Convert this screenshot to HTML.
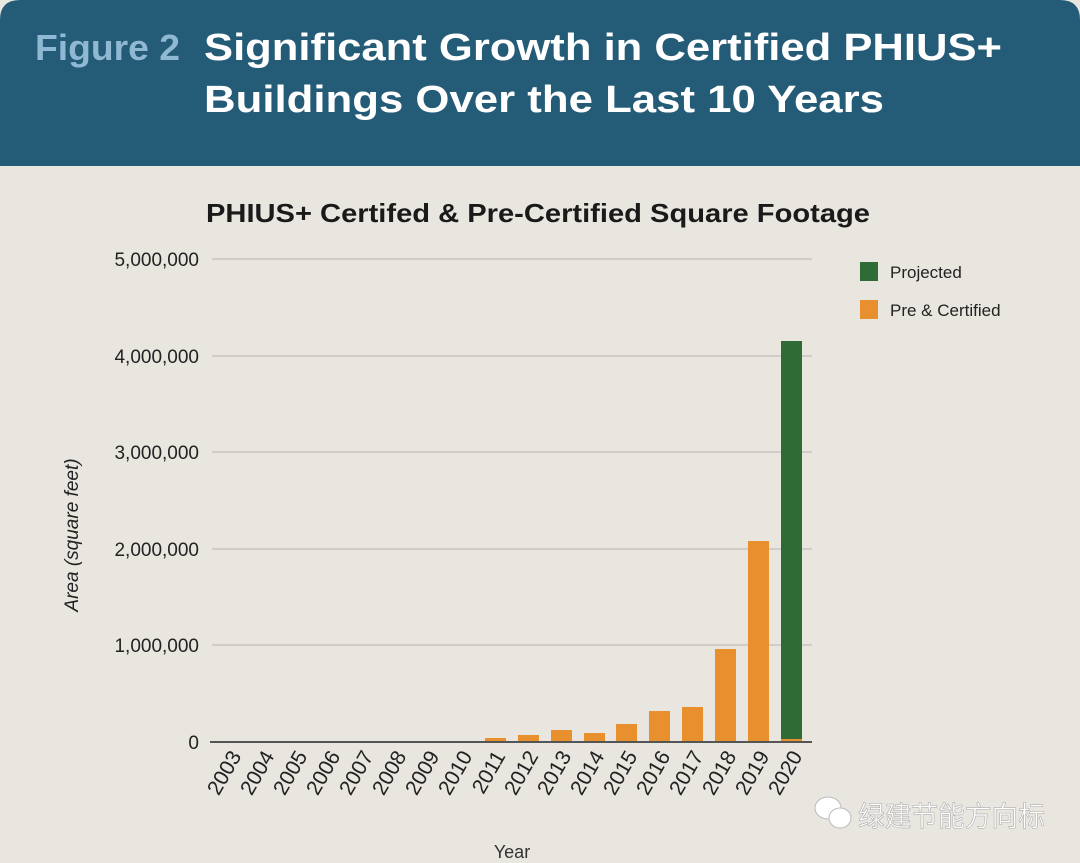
<!DOCTYPE html>
<html><head><meta charset="utf-8"><style>
html,body{margin:0;padding:0;background:#e9e6e0;}
svg{display:block;}
</style></head><body>
<svg width="1080" height="863" viewBox="0 0 1080 863" xmlns="http://www.w3.org/2000/svg" font-family="Liberation Sans, sans-serif">
<rect width="1080" height="863" fill="#e9e6e0"/>
<path d="M0,20 Q0,0 20,0 L1060,0 Q1080,0 1080,20 L1080,166 L0,166 Z" fill="#245b76"/>
<text x="35" y="60" font-size="36" font-weight="bold" fill="#8fb8d3" textLength="145" lengthAdjust="spacingAndGlyphs">Figure 2</text>
<text x="204" y="60" font-size="38" font-weight="bold" fill="#ffffff" textLength="798" lengthAdjust="spacingAndGlyphs">Significant Growth in Certified PHIUS+</text>
<text x="204" y="112" font-size="38" font-weight="bold" fill="#ffffff" textLength="680" lengthAdjust="spacingAndGlyphs">Buildings Over the Last 10 Years</text>
<text x="206" y="222" font-size="26" font-weight="bold" fill="#1a1a1a" textLength="664" lengthAdjust="spacingAndGlyphs">PHIUS+ Certifed &amp; Pre-Certified Square Footage</text>
<g stroke="#c9c6c1" stroke-width="1.5">
<line x1="212" y1="259" x2="812" y2="259"/>
<line x1="212" y1="356" x2="812" y2="356"/>
<line x1="212" y1="452" x2="812" y2="452"/>
<line x1="212" y1="549" x2="812" y2="549"/>
<line x1="212" y1="645" x2="812" y2="645"/>
</g>
<g font-size="19" fill="#222" text-anchor="end">
<text x="199" y="266">5,000,000</text>
<text x="199" y="363">4,000,000</text>
<text x="199" y="459">3,000,000</text>
<text x="199" y="556">2,000,000</text>
<text x="199" y="652">1,000,000</text>
<text x="199" y="749">0</text>
</g>
<text transform="translate(78,535) rotate(-90)" font-size="19" font-style="italic" fill="#222" text-anchor="middle">Area (square feet)</text>
<g fill="#e8902e">
<rect x="485" y="738" width="21" height="4"/>
<rect x="518" y="735" width="21" height="7"/>
<rect x="551" y="730" width="21" height="12"/>
<rect x="584" y="733" width="21" height="9"/>
<rect x="616" y="724" width="21" height="18"/>
<rect x="649" y="711" width="21" height="31"/>
<rect x="682" y="707" width="21" height="35"/>
<rect x="715" y="649" width="21" height="93"/>
<rect x="748" y="541" width="21" height="201"/>
<rect x="781" y="739" width="21" height="3"/>
</g>
<rect x="781" y="341" width="21" height="398" fill="#2f6b34"/>
<line x1="210" y1="742" x2="812" y2="742" stroke="#555" stroke-width="2"/>
<g font-size="21" fill="#222" text-anchor="end">
<text transform="translate(242,756) rotate(-60)">2003</text>
<text transform="translate(275,756) rotate(-60)">2004</text>
<text transform="translate(308,756) rotate(-60)">2005</text>
<text transform="translate(341,756) rotate(-60)">2006</text>
<text transform="translate(374,756) rotate(-60)">2007</text>
<text transform="translate(407,756) rotate(-60)">2008</text>
<text transform="translate(440,756) rotate(-60)">2009</text>
<text transform="translate(473,756) rotate(-60)">2010</text>
<text transform="translate(506,756) rotate(-60)">2011</text>
<text transform="translate(539,756) rotate(-60)">2012</text>
<text transform="translate(572,756) rotate(-60)">2013</text>
<text transform="translate(605,756) rotate(-60)">2014</text>
<text transform="translate(638,756) rotate(-60)">2015</text>
<text transform="translate(671,756) rotate(-60)">2016</text>
<text transform="translate(704,756) rotate(-60)">2017</text>
<text transform="translate(737,756) rotate(-60)">2018</text>
<text transform="translate(770,756) rotate(-60)">2019</text>
<text transform="translate(803,756) rotate(-60)">2020</text>
</g>
<text x="512" y="858" font-size="18" fill="#333" text-anchor="middle">Year</text>
<rect x="860" y="262" width="18" height="19" fill="#2f6b34"/>
<text x="890" y="278" font-size="17" fill="#222">Projected</text>
<rect x="860" y="300" width="18" height="19" fill="#e8902e"/>
<text x="890" y="316" font-size="17" fill="#222">Pre &amp; Certified</text>
<g fill="#fff" stroke="#bbb" stroke-width="1">
<ellipse cx="828" cy="808" rx="13" ry="11"/>
<ellipse cx="840" cy="818" rx="11" ry="10"/>
</g>
<text x="858" y="826" font-size="28" fill="#ffffff" stroke="#aaa" stroke-width="0.6" textLength="187" lengthAdjust="spacingAndGlyphs" font-family="Liberation Sans, Noto Sans CJK SC, sans-serif">绿建节能方向标</text>
</svg>
</body></html>
